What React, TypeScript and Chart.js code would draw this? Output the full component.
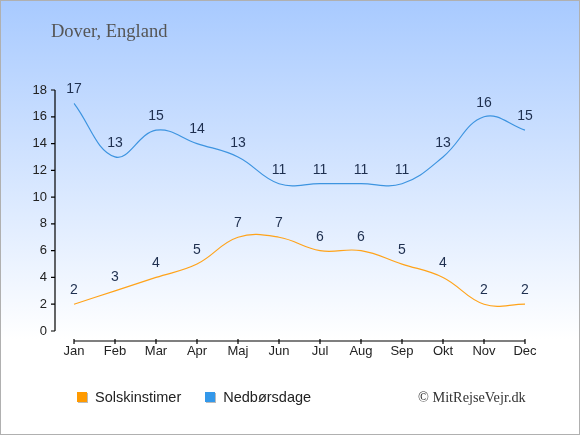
import { useEffect, useRef } from 'react';
import { Chart, registerables } from 'chart.js';

Chart.register(...registerables);

const months = ['Jan', 'Feb', 'Mar', 'Apr', 'Maj', 'Jun', 'Jul', 'Aug', 'Sep', 'Okt', 'Nov', 'Dec'];
const sunHours = [2, 3, 4, 5, 7, 7, 6, 6, 5, 4, 2, 2];
const rainDays = [17, 13, 15, 14, 13, 11, 11, 11, 11, 13, 16, 15];
const yTicks = [0, 2, 4, 6, 8, 10, 12, 14, 16, 18];

const SUN_COLOR = '#ffa31a';
const RAIN_COLOR = '#3d94e0';
const FONT = '"Liberation Sans", Arial, sans-serif';
const SERIF = '"Liberation Serif", "DejaVu Serif", serif';

// draws the detached axis lines and the value labels over each point
const axesAndLabels = {
  id: 'axesAndLabels',
  afterDatasetsDraw(chart: any) {
    const { ctx, chartArea, scales } = chart;
    const x = scales.x;
    const y = scales.y;
    ctx.save();
    ctx.strokeStyle = '#000';
    ctx.lineWidth = 1.2;

    const ax = chartArea.left - 19;
    ctx.beginPath();
    ctx.moveTo(ax, y.getPixelForValue(18));
    ctx.lineTo(ax, y.getPixelForValue(0));
    yTicks.forEach((v) => {
      const py = y.getPixelForValue(v);
      ctx.moveTo(ax - 4, py);
      ctx.lineTo(ax, py);
    });
    ctx.stroke();

    const ay = chartArea.bottom + 10;
    ctx.beginPath();
    ctx.moveTo(x.getPixelForValue(0), ay);
    ctx.lineTo(x.getPixelForValue(months.length - 1), ay);
    months.forEach((_, i) => {
      const px = x.getPixelForValue(i);
      ctx.moveTo(px, ay - 2);
      ctx.lineTo(px, ay + 3);
    });
    ctx.stroke();

    ctx.fillStyle = '#1e2f4f';
    ctx.font = '14px ' + FONT;
    ctx.textAlign = 'center';
    ctx.textBaseline = 'middle';
    chart.data.datasets.forEach((ds: any, di: number) => {
      const meta = chart.getDatasetMeta(di);
      meta.data.forEach((pt: any, i: number) => {
        ctx.fillText(String(ds.data[i]), pt.x, pt.y - 14);
      });
    });
    ctx.restore();
  },
};

export default function App() {
  const canvasRef = useRef<HTMLCanvasElement>(null);

  useEffect(() => {
    if (!canvasRef.current) return;
    const chart = new Chart(canvasRef.current, {
      type: 'line',
      data: {
        labels: months,
        datasets: [
          {
            label: 'Solskinstimer',
            data: sunHours,
            borderColor: SUN_COLOR,
            borderWidth: 1.2,
            pointRadius: 0,
            tension: 0.4,
            fill: false,
          },
          {
            label: 'Nedbørsdage',
            data: rainDays,
            borderColor: RAIN_COLOR,
            borderWidth: 1.2,
            pointRadius: 0,
            tension: 0.4,
            fill: false,
          },
        ],
      },
      options: {
        responsive: false,
        animation: false,
        layout: { padding: { top: 90, right: 55, bottom: 74, left: 0 } },
        plugins: {
          legend: { display: false },
          tooltip: { enabled: false },
        },
        scales: {
          x: {
            offset: false,
            grid: { display: false, drawTicks: false },
            border: { display: false },
            ticks: {
              color: '#222',
              font: { family: FONT, size: 13 },
              padding: 13,
              maxRotation: 0,
              autoSkip: false,
            },
            afterFit: (s: any) => {
              s.height = 30;
            },
          },
          y: {
            min: 0,
            max: 18,
            grid: { display: false, drawTicks: false },
            border: { display: false },
            ticks: {
              stepSize: 2,
              color: '#222',
              font: { family: FONT, size: 13 },
              padding: 27,
            },
            afterFit: (s: any) => {
              s.width = 74;
            },
          },
        },
      },
      plugins: [axesAndLabels],
    });
    return () => chart.destroy();
  }, []);

  return (
    <div
      style={{
        position: 'fixed',
        left: 0,
        top: 0,
        width: 580,
        height: 435,
        background: 'linear-gradient(to bottom, #a8caff 0%, #ffffff 78%, #ffffff 100%)',
        fontFamily: FONT,
      }}
    >
      <canvas ref={canvasRef} width={580} height={435} style={{ position: 'absolute', left: 0, top: 0 }} />
      <div style={{ position: 'absolute', left: 51, top: 21, fontFamily: SERIF, fontSize: 18.5, color: '#555' }}>
        Dover, England
      </div>
      <div
        style={{
          position: 'absolute',
          left: 77,
          top: 389,
          display: 'flex',
          alignItems: 'center',
          fontSize: 14.5,
          color: '#222',
        }}
      >
        <span style={{ width: 10, height: 10, background: '#ff9a00', boxShadow: '1px 1px 0 #bbb', marginRight: 8 }} />
        <span>Solskinstimer</span>
        <span
          style={{
            width: 10,
            height: 10,
            background: '#3398ea',
            boxShadow: '1px 1px 0 #bbb',
            marginLeft: 24,
            marginRight: 8,
          }}
        />
        <span>Nedbørsdage</span>
      </div>
      <div style={{ position: 'absolute', left: 418, top: 389, fontFamily: SERIF, fontSize: 14.3, color: '#333' }}>
        © MitRejseVejr.dk
      </div>
      <div
        style={{
          position: 'absolute',
          left: 0,
          top: 0,
          width: 580,
          height: 435,
          boxSizing: 'border-box',
          border: '1px solid #b0b0b0',
          pointerEvents: 'none',
        }}
      />
    </div>
  );
}
